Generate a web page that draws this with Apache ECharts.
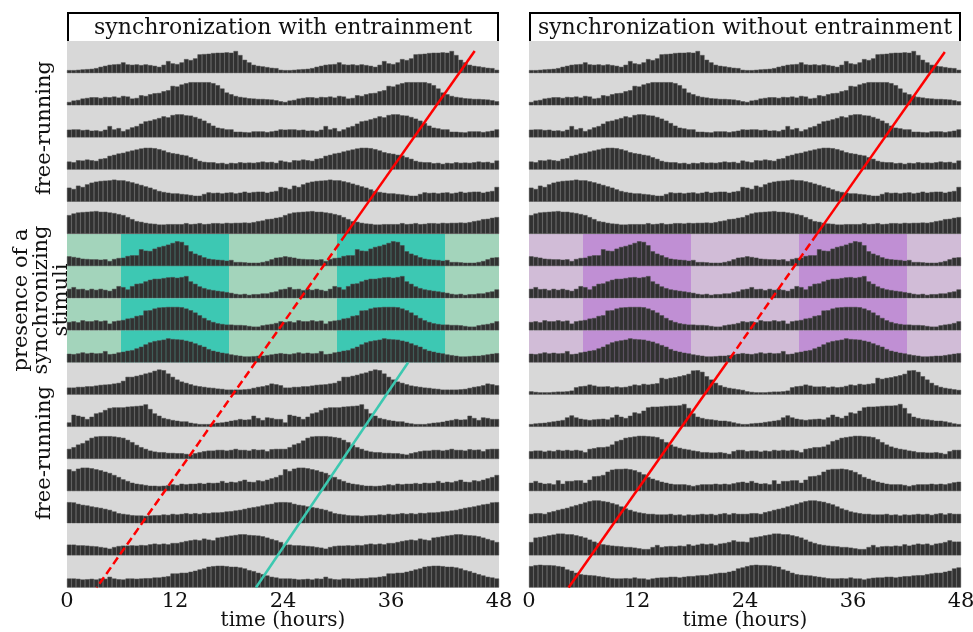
<!DOCTYPE html>
<html><head><meta charset="utf-8">
<script src="https://cdn.jsdelivr.net/npm/echarts@6/dist/echarts.min.js"></script>
<style>html,body{margin:0;padding:0;background:#fff}#c{width:973px;height:632px}</style>
</head><body><div id="c"></div>
<script>
// ---------------- DATA ----------------
const hourTicks = [0, 12, 24, 36, 48];
const panelTitles = ['synchronization with entrainment', 'synchronization without entrainment'];
const rowPhase = ['free','free','free','free','free','free','sync','sync','sync','sync','free','free','free','free','free','free','free'];
const stimulusWindows = [[6, 18], [30, 42]];
const sideLabels = ['free-running', 'presence of a\nsynchronizing\nstimuli', 'free-running'];

// activity per 30-min bin (48 bins = 24 h), each row is double-plotted over 48 h
const day01 = [3,3,3.3,3.7,4,4.3,5,6.3,7.3,8.3,8.7,9,10.7,8.7,8.3,8.7,8,8.7,8,7.3,6.3,8.3,12,9.7,9,10.7,14,13,14.7,18.7,19,19.3,20,20.3,20.3,20.7,20.3,22,18,13.3,10.7,8.3,7.3,6.7,6,5.3,5,3.3];
const day02 = [3.3,4.7,5.3,6.7,7.3,8,8,7.3,8.3,8,8.7,7.7,9.3,8.7,6.7,7.3,10,9.3,11,12,12.3,14,15,19.3,18.7,20.7,22,23,23,23,23,23,22,20,16.7,12.7,11,9.3,8.3,7.7,7,6.7,6.3,6.3,6,5.7,5,4];
const day03 = [7.7,8,8,7.3,7.7,6.7,7,6.3,7.7,11.3,8,9.3,6.3,8,10,11.3,13.7,16,16.7,18,19.3,21,20,22.3,23,23,22,21.7,20.3,18.7,16.7,14.3,11.7,9.7,9,8,8,5.7,5.7,5.3,5,6,6,6,5.3,6,6.7,8];
const day04 = [8,7.3,9.3,9,10,9.3,8.7,10.7,11.3,13.7,14.7,16,16.7,18,19,20,21,21.7,21.7,21.3,20.3,19,17.3,16.3,15.7,14.7,14,12.3,10.7,8.7,7.7,7.3,7.3,6.3,6.7,5.7,6.7,6.3,7.3,6.7,7,6.7,7.3,8,7.3,7.7,6.7,9];
const day05 = [14,12.7,16,14.7,17.3,19,20,20.7,21,21.3,22,21.3,21.3,20.3,19.3,18,16.7,15.3,14,12.3,10.7,9.7,9,8.3,8.3,7.7,7.3,6.7,6,6,7.7,9.3,8.7,9,8.3,9,9.3,8.3,9,10,9,9.7,10,10,9,10,10.7,14.7];
const day06 = [18.7,20.3,21.3,21.7,22,22.3,22.7,22,22,21.3,20.7,19.7,18.7,16.7,14.7,12.7,12,11,10.3,10,9.3,9.3,9.7,9.7,9.7,9.7,10.7,9.7,10,10.7,9.7,10,10.7,10.7,10.3,11,10.7,11,11,11.3,11,11.7,12.7,13.3,14.7,15,16,16.7];
const day07 = [9.7,9,8.3,7.3,7,6.7,6.7,6.3,6.7,5,7,8,8.3,10,10.7,10.7,16.7,15.3,15,17.3,19,20,21.3,23,24.7,24,20.7,14.7,12.3,10.7,8.7,7.3,6.7,6.3,6,5.3,6,4,4,3.7,3.3,3.3,3.3,4,5,6.7,8.3,8.7];
const day08 = [9.3,11,9,9.3,8,9.3,8.3,9.3,8.3,7.3,9.3,12,11,8.7,12,14.3,14.7,16.7,18.3,19.3,19.3,20,20.7,21,20.3,21,22,16.7,14.3,11.7,10,8.7,8,7.3,6.7,6,5.3,4.3,3.7,4.3,3.3,4,4,4.7,4.7,6,6.7,8.7];
const day09 = [8.3,9,8,10,9,9,10,9,9.7,6.7,9,9.7,10.3,11.7,12.3,14.3,15,19.7,20,21.7,22.7,23,23.3,23.3,23.3,23,21.7,20,17.7,15,12.3,10,8.3,7,6.3,5.7,5.7,5.3,5.3,5,4.3,3.7,3.7,5,5.7,6.3,7.3,9];
const day10 = [8.7,8.3,9,10,9,9.7,9,9.3,11.3,8.3,8.7,10,10.7,11.7,12.3,14,15.7,18,20,21.3,22,22.7,24,23.3,23,22.7,21.7,20.7,19,17.3,15.7,13.3,11.7,10.7,9.7,9,8,7.3,6.7,6,6,6.3,6.7,6.7,7.3,8,8.7,9.3];

const leftDay11 = [7,7,7.7,7.7,8.3,8.3,9,9.7,10,10.3,11,11.7,13.7,17.7,17.7,18.7,19.7,21,22,23.7,25,24.3,21,17.7,15,13,11.7,10.3,9,8.3,7.7,7,6.7,6,5.7,5,5,5,5,5.3,5.7,6.7,7.7,8.3,9.3,11,10.3,9.3];
const leftDay12 = [4.3,12,11,10,7.7,10,13.3,14.3,16.7,18.7,19.3,19.3,19.3,20,20.3,20.7,21,22.3,17.7,13.3,11,8.7,7.7,6.7,6,5.3,5.3,4,3.3,2.7,2.7,2.7,3.3,4,4.3,5,6,6.7,7.7,7,7.3,11,8.7,6.7,9.3,8.7,7.7,7.7];
const leftDay13 = [10,11.7,14.3,15.7,18.3,21,22.3,22.7,22.7,22.7,22.3,21.7,21,19,16.7,14,11.7,10,8.3,7.3,6.7,6.7,6,6,5.7,5.7,5,4.3,5.7,6.7,7.7,8.3,8.3,9,9,8.3,9,10,9,9,8.3,9.7,9,9.3,7.7,9.7,10,10];
const leftDay14 = [21.7,20,22.3,23.3,23.3,22.7,21.7,20.7,19.3,18,16,14,11.7,10,8.3,7.3,6.7,6,5.3,5.3,5,5.3,5.7,6.7,6,7.3,6.7,7.3,7.3,8,7.3,8.3,8,8.3,10,8.3,9.3,8.7,10,11.3,9.3,9,10.7,10,11.3,12.7,14,16];
const leftDay15 = [21,20.7,19.3,18.3,17.7,16.7,16,15.3,14.3,13.3,11.7,10,9.3,8.7,8,7.7,7.7,7.3,7.7,8,8,8.7,8.3,9.3,8.7,9.3,10,9.3,10,9.3,10.3,10,10.7,10.7,11,11.7,12,12.7,13.3,14.3,15.3,16,16.7,17.7,18.7,19.3,20.7,21];
const leftDay16 = [10.7,10.7,10,10,9.7,9.3,9,8.3,7.7,6.7,8.3,9.3,9.7,9.7,10,9.7,10.3,10,11,11.7,11,11.7,11,12.3,12.3,13.3,14.3,15,15.7,15,16.7,15.7,15,17.7,18.3,19,19.7,20.3,21,21,20.3,20,19.7,19,17.7,16.3,15,13.3];
const leftDay17 = [9,9,8.7,8,8.3,8.7,8,9,8.7,10.7,9,8.3,8,9,9,8.7,9,9.3,9.3,10,10,10.7,11.3,14,14,14.7,14.7,15.7,16.7,18,19,20.7,21.3,21.7,21.7,21.3,20.7,20.7,20,19,17.3,16.3,14.7,13.3,12,10.7,10,9];

const rightDay11 = [3.3,2.7,2.3,2.3,2.3,2.7,3,3,3.3,4,7.3,8.3,8.7,10,9,8,8,8.3,7.3,8,7.3,7.7,8.7,10,9.3,10.7,10,10.7,11.3,16.7,15.7,16.7,17.3,18.3,19.3,20.7,24,24.3,22.7,18.3,15,11.7,9.3,7.7,6.7,6,5.3,4.7];
const rightDay12 = [2.7,3.3,3.7,4,4.7,5.3,6,6.7,9.3,11.3,9.3,8,7.3,6.7,7.3,7.7,8,7.3,9.3,12,10,8.7,11,14.3,13.3,16,19.3,20,20,20.3,20.7,21,21,21.3,22.7,18.7,13.3,10,8.7,7.7,7.3,6.7,6,6,5.3,4.3,3.3,2.7];
const rightDay13 = [7.7,8.3,8.3,7.3,8.3,7.7,9,8.3,9,8.3,9,8.3,6.7,10,10.7,11.7,11.7,12.3,14.3,17.7,19,21,21.7,22.3,23,23,22.7,22.3,21.7,19.7,16.7,14.3,12.3,11,10,9.3,8.3,7.7,6.7,6.7,6.3,6.3,6.7,6,5,7.7,9,9];
const rightDay14 = [8.3,10,8.3,7.3,7.7,6.7,10.7,7.3,10,10,10.7,10.7,8.3,11.3,14.7,15,16,19.3,21.3,22,22,22.3,21.7,20.7,19,16.7,14,12.3,10.7,9.3,8.3,7.3,6.7,6.7,6.7,6,5,6,6.7,6.7,6.7,7.3,6.7,7.3,6.7,7.7,8.7,9.3];
const rightDay15 = [9.3,10,10,9.3,11,12,13.3,14.3,15.3,16.7,18,19.3,20.7,22,22.7,22.7,22,21.3,20,18.7,16.7,14.7,13.3,11.7,10.7,10,9.3,9.3,8.7,8.7,8.7,9.3,8.3,8.7,7.7,8.7,8.3,8.7,9.3,8.7,9.3,8.3,9.3,10,8.7,10,9.3,9.3];
const rightDay16 = [13.3,17.7,18.3,19,20,20.7,21.7,21.7,21,21,20,19,17.7,15.7,13.7,12.3,11,10.3,9.7,9.3,9,8.3,8.3,7.7,7,6.3,6.3,8.3,10.3,8.3,9,9.3,9,9.7,9.3,11,9.7,10.7,11.7,11,11.7,10.3,11.7,12.3,13.3,15,13.7,13.7];
const rightDay17 = [21.3,22.3,22.7,22.3,22.3,22,21.3,20.7,18,16.7,14.7,13.3,12.7,12.3,12,11.3,10.7,10,9.3,9,9,9.3,9,10,9,9,8,9,9.7,10,10,10.7,10.7,10,10.7,11.3,11.3,12,12.3,12.3,13.3,14,14.7,14.7,15.7,16.7,19,20];

const leftDays = [day01,day02,day03,day04,day05,day06,day07,day08,day09,day10,leftDay11,leftDay12,leftDay13,leftDay14,leftDay15,leftDay16,leftDay17];
const rightDays = [day01,day02,day03,day04,day05,day06,day07,day08,day09,day10,rightDay11,rightDay12,rightDay13,rightDay14,rightDay15,rightDay16,rightDay17];

// phase lines: [hour, row]
const leftRedSolid = [[45.3, 0.31], [31.0, 6]];
const leftRedDashed = [[31.0, 6], [3.3, 17]];
const leftTeal = [[37.9, 10], [21.0, 17]];
const rightRedSolidTop = [[46.2, 0.34], [32.0, 6]];
const rightRedDashed = [[32.0, 6], [22.0, 10]];
const rightRedSolidBottom = [[22.0, 10], [4.4, 17]];

// ---------------- LAYOUT / STYLE ----------------
const FONT = '"DejaVu Serif", "Liberation Serif", serif';
const TOP = 41, ROW_H = 32.15, W = 432, NROWS = rowPhase.length;
const RED = '#ff0000', TEAL = '#3cc8b0';
const panels = [
  { left: 67, days: leftDays, light: '#a3d4bb', dark: '#3dc8b3',
    lines: [{d: leftRedSolid, c: RED, t: 'solid'}, {d: leftRedDashed, c: RED, t: [8, 4]}, {d: leftTeal, c: TEAL, t: 'solid'}] },
  { left: 529, days: rightDays, light: '#d1bcd7', dark: '#c08fd4',
    lines: [{d: rightRedSolidTop, c: RED, t: 'solid'}, {d: rightRedDashed, c: RED, t: [8, 4]}, {d: rightRedSolidBottom, c: RED, t: 'solid'}] }
];
const GRAY = '#d8d8d8';
const binLabels = [];
for (let k = 0; k < 96; k++) binLabels.push(String(k / 2));

const grids = [], xAxes = [], yAxes = [], series = [], graphics = [];

panels.forEach((p, pi) => {
  const gi = grids.length;
  grids.push({ left: p.left, top: TOP, width: W, height: ROW_H * NROWS, containLabel: false, outerBoundsMode: 'none' });
  xAxes.push({
    gridIndex: gi, type: 'value', min: hourTicks[0], max: hourTicks[hourTicks.length - 1], interval: 12,
    axisLine: { show: false }, axisTick: { show: false }, splitLine: { show: false },
    axisLabel: { show: true, margin: 3, fontSize: 21, color: '#111', fontFamily: FONT },
    name: 'time (hours)', nameLocation: 'middle', nameGap: 23, nameMoveOverlap: false,
    nameTextStyle: { fontSize: 20, color: '#111', fontFamily: FONT }
  });
  yAxes.push({ gridIndex: gi, type: 'value', min: 0, max: NROWS, inverse: true, show: false });

  const areas = [];
  rowPhase.forEach((ph, r) => {
    if (ph === 'free') {
      areas.push([{ xAxis: 0, yAxis: r, itemStyle: { color: GRAY } }, { xAxis: 48, yAxis: r + 1 }]);
    } else {
      let prev = 0;
      stimulusWindows.forEach(w => {
        areas.push([{ xAxis: prev, yAxis: r, itemStyle: { color: p.light } }, { xAxis: w[0], yAxis: r + 1 }]);
        areas.push([{ xAxis: w[0], yAxis: r, itemStyle: { color: p.dark } }, { xAxis: w[1], yAxis: r + 1 }]);
        prev = w[1];
      });
      areas.push([{ xAxis: prev, yAxis: r, itemStyle: { color: p.light } }, { xAxis: 48, yAxis: r + 1 }]);
    }
  });
  series.push({ type: 'line', xAxisIndex: gi, yAxisIndex: gi, data: [], symbol: 'none', silent: true, z: 1,
    markArea: { silent: true, z: 1, itemStyle: { opacity: 1, borderWidth: 0 }, label: { show: false }, data: areas } });

  p.days.forEach((d, r) => {
    const g = grids.length;
    grids.push({ left: p.left, top: TOP + r * ROW_H, width: W, height: ROW_H, containLabel: false, outerBoundsMode: 'none' });
    xAxes.push({ gridIndex: g, type: 'category', data: binLabels, show: false, boundaryGap: true });
    yAxes.push({ gridIndex: g, type: 'value', min: 0, max: 32, show: false });
    series.push({ type: 'bar', xAxisIndex: g, yAxisIndex: g, data: d.concat(d), barCategoryGap: '0%', barGap: '0%',
      silent: true, z: 5, itemStyle: { color: '#313131', borderColor: '#4a4a4a', borderWidth: 0.5 } });
  });

  p.lines.forEach(l => {
    series.push({ type: 'line', xAxisIndex: gi, yAxisIndex: gi, data: l.d, symbol: 'none', silent: true, z: 10,
      lineStyle: { color: l.c, width: 2.5, type: l.t, cap: 'butt' } });
  });

  const x0 = p.left, x1 = p.left + W;
  graphics.push({ type: 'polyline', silent: true, z: 20,
    shape: { points: [[x0 + 1, TOP], [x0 + 1, 13], [x1 - 1, 13], [x1 - 1, TOP]] },
    style: { stroke: '#000', lineWidth: 2, fill: null } });
  graphics.push({ type: 'text', silent: true, z: 20, x: (x0 + x1) / 2, y: 28,
    style: { text: panelTitles[pi], font: '22px ' + FONT, fill: '#111', align: 'center', verticalAlign: 'middle' } });
});

const sidePos = [[45, 128], [42, 300], [45, 453]];
sideLabels.forEach((t, i) => {
  graphics.push({ type: 'text', silent: true, z: 20, x: sidePos[i][0], y: sidePos[i][1], rotation: Math.PI / 2,
    style: { text: t, font: '21px ' + FONT, fill: '#111', align: 'center', verticalAlign: 'middle', lineHeight: 20 } });
});

const chart = echarts.init(document.getElementById('c'), null, { renderer: 'canvas' });
chart.setOption({
  animation: false,
  backgroundColor: '#fff',
  grid: grids, xAxis: xAxes, yAxis: yAxes, series: series,
  graphic: { elements: graphics }
});
</script></body></html>
